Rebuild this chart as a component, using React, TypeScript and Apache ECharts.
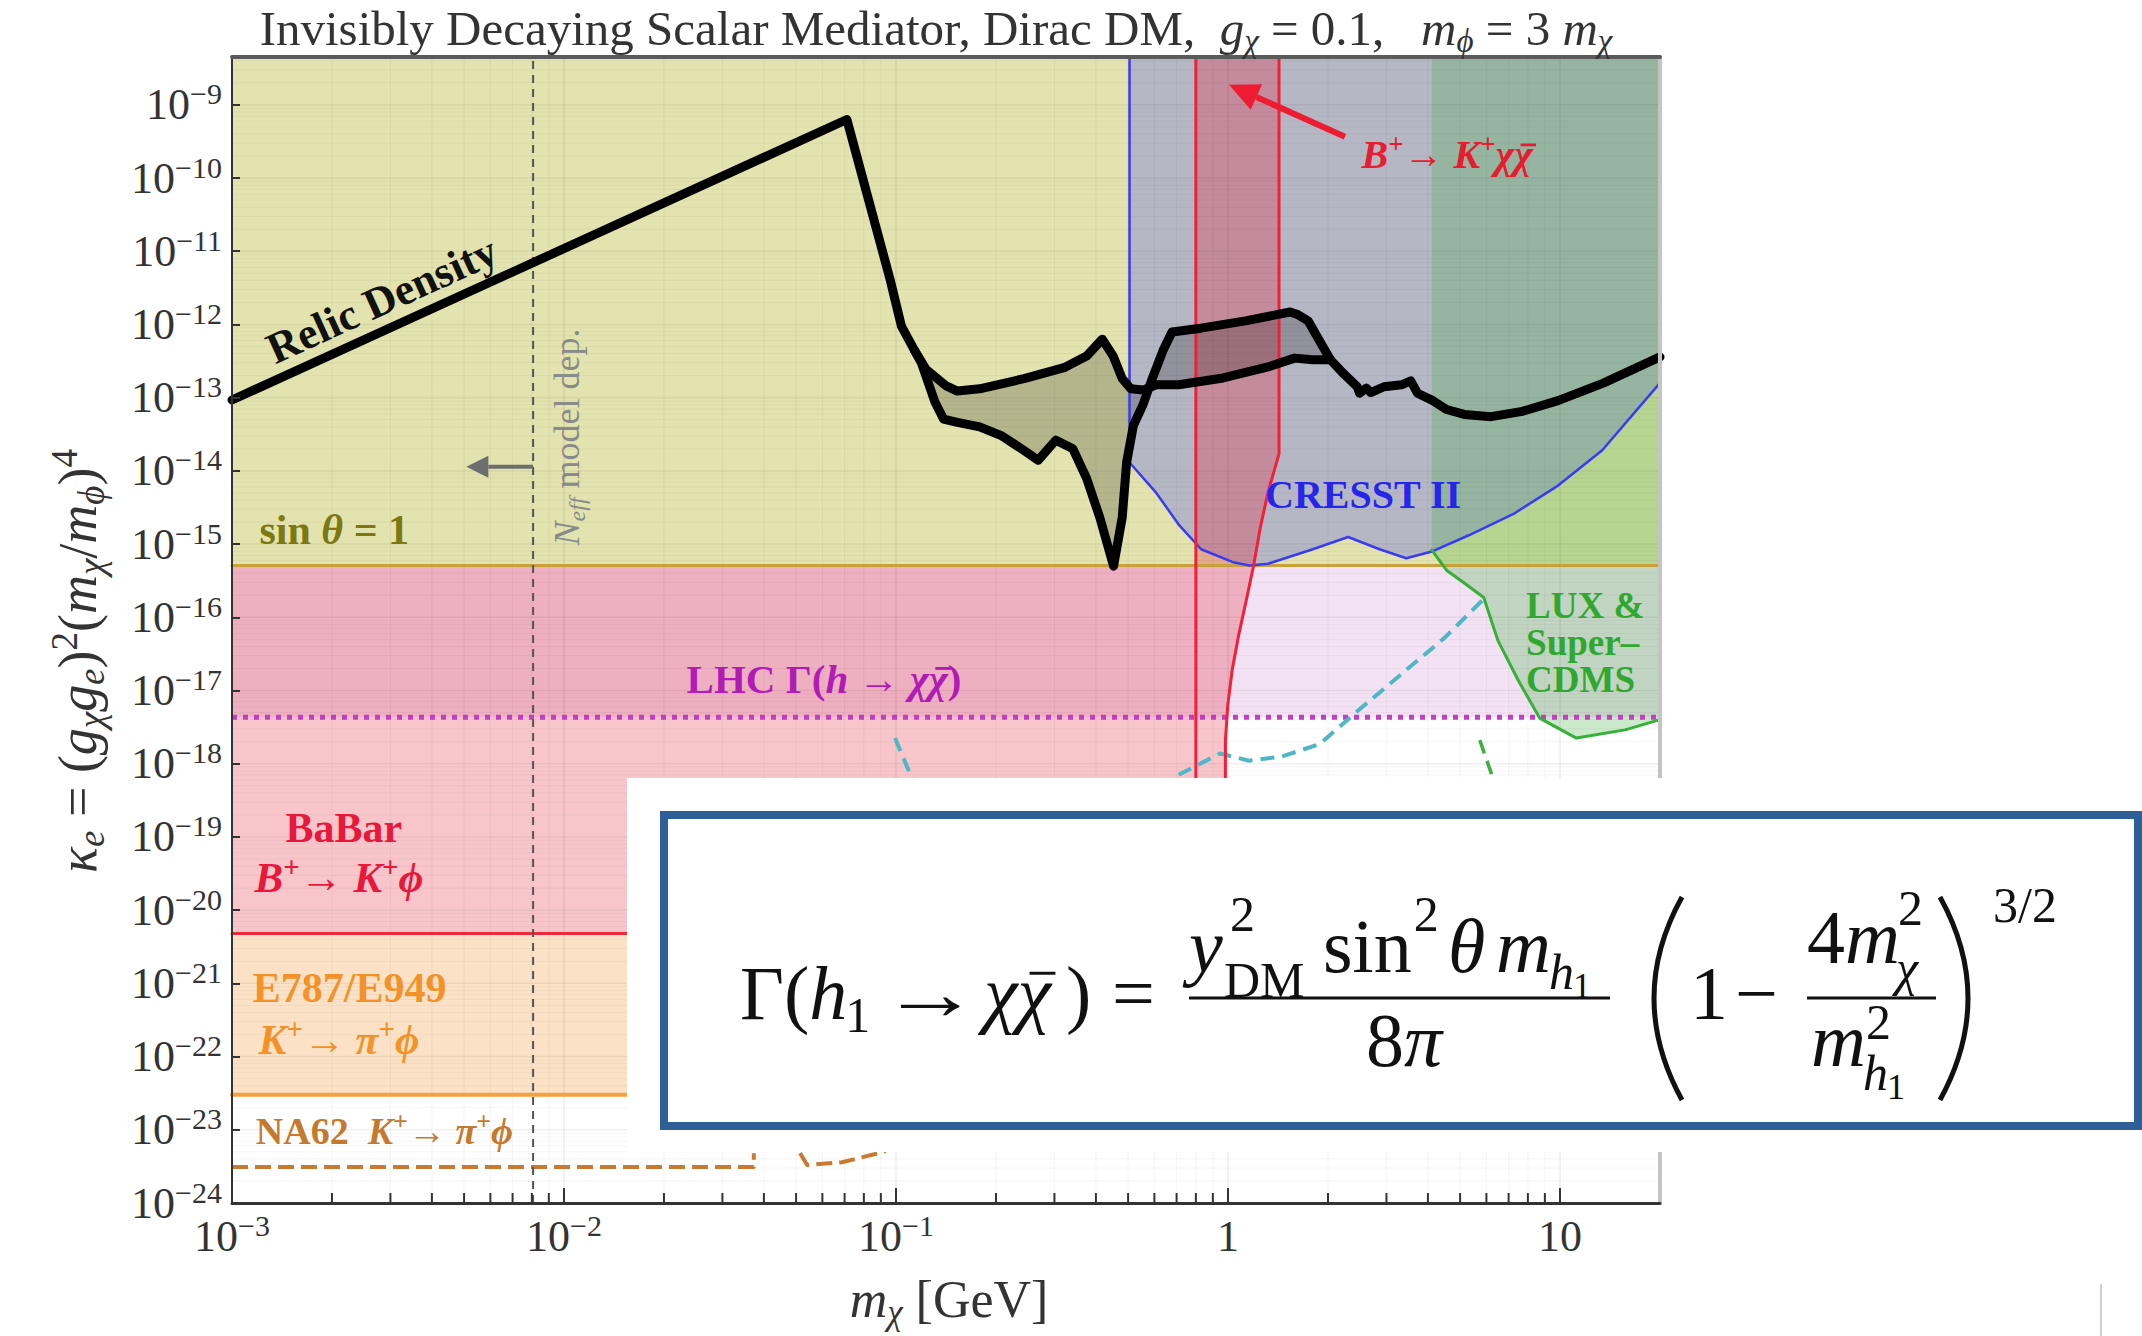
import React, { useEffect, useRef } from "react";
import * as echarts from "echarts";

const SERIF = "'Liberation Serif', 'DejaVu Serif', serif";

// ---------- axis extents (m_chi in GeV, kappa_e) ----------
const X_MIN = 1e-3;
const X_MAX = 20;
const Y_MIN = 1e-24;
const Y_MAX = 4.5e-9;

// ---------- horizontal limits ----------
const SIN_THETA_LIMIT = 5.1e-16;
const LHC_LIMIT = 4.3e-18;
const BABAR_LIMIT = 4.8e-21;
const E787_LIMIT = 3.0e-23;
const NA62_LEVEL = 3.1e-24;

// ---------- vertical limits (GeV) ----------
const NEFF_MASS = 0.00807;
const KAON_END = 0.12;
const BKXX_LEFT = 0.8;
const BKXX_BOTTOM = 1e-21;
const LUX_EDGE = 4.11;

// ---------- relic density curves ----------
const relicMain = [[0.001, 9.3e-14], [0.0711, 6.3e-10], [0.096, 4.1e-12], [0.1038, 9.5e-13], [0.1138, 4.4e-13]];
const relicUpper = [
  [0.1138, 4.4e-13], [0.123, 2.45e-13], [0.1416, 1.45e-13], [0.153, 1.23e-13], [0.1786, 1.32e-13],
  [0.243, 1.82e-13], [0.3206, 2.57e-13], [0.375, 3.7e-13], [0.418, 6.3e-13], [0.451, 3.7e-13],
  [0.48, 1.82e-13], [0.51, 1.32e-13], [0.555, 1.27e-13], [0.608, 1.5e-13], [0.71, 1.5e-13],
  [0.967, 1.86e-13], [1.32, 2.63e-13], [1.587, 3.47e-13], [1.795, 3.3e-13], [2.035, 3.3e-13],
];
const relicLower = [
  [0.1138, 4.4e-13], [0.1192, 3.0e-13], [0.131, 8.7e-14], [0.139, 5.1e-14], [0.153, 4.6e-14],
  [0.1786, 4.0e-14], [0.2084, 3.0e-14], [0.243, 1.9e-14], [0.268, 1.4e-14], [0.303, 2.63e-14],
  [0.341, 2.0e-14], [0.375, 7.9e-15], [0.411, 2.3e-15], [0.452, 5.0e-16], [0.48, 2.3e-15],
  [0.495, 1.32e-14], [0.519, 4.2e-14], [0.555, 8.1e-14], [0.59, 1.78e-13], [0.637, 4.4e-13],
  [0.678, 7.9e-13], [0.828, 8.9e-13], [1.129, 1.12e-12], [1.538, 1.48e-12], [1.612, 1.38e-12],
  [1.742, 1.12e-12], [1.91, 5.4e-13], [2.035, 3.3e-13],
];
const relicTail = [
  [2.035, 3.3e-13], [2.234, 2.1e-13], [2.45, 1.41e-13], [2.49, 1.15e-13], [2.61, 1.35e-13],
  [2.69, 1.17e-13], [2.95, 1.41e-13], [3.33, 1.5e-13], [3.55, 1.7e-13], [3.72, 1.15e-13],
  [4.14, 9.1e-14], [4.55, 6.9e-14], [5.15, 5.9e-14], [6.2, 5.5e-14], [7.7, 6.5e-14],
  [9.86, 9.1e-14], [13.5, 1.58e-13], [20, 3.6e-13],
];

// ---------- direct detection & B decays ----------
const cresstCurve = [
  [0.505, Y_MAX], [0.505, 1.3e-14], [0.608, 5.0e-15], [0.71, 1.85e-15], [0.83, 8.5e-16],
  [1.03, 5.7e-16], [1.16, 5.1e-16], [1.32, 5.4e-16], [1.8, 8.5e-16], [2.3, 1.25e-15],
  [2.86, 8.5e-16], [3.44, 6.4e-16], [4.14, 8.0e-16], [5.31, 1.32e-15], [7.24, 2.58e-15],
  [9.86, 6.3e-15], [13.4, 1.91e-14], [20, 1.59e-13],
];
const luxCurve = [
  [4.11, 8.3e-16], [4.55, 4.4e-16], [5.17, 2.9e-16], [5.89, 1.86e-16], [6.5, 4.8e-17],
  [7.5, 1.35e-17], [8.68, 4.2e-18], [11.2, 2.24e-18], [15.7, 2.9e-18], [20, 4.0e-18],
];
const bkxxCurve = [
  [1.424, Y_MAX], [1.424, 1.71e-14], [1.318, 5.0e-15], [1.25, 1.66e-15], [1.194, 5.1e-16],
  [1.137, 1.78e-16], [1.078, 5.9e-17], [1.029, 1.9e-17], [0.998, 6.3e-18], [0.982, 2.07e-18],
  [0.982, 6.8e-19], [0.98, 1e-21],
];
const cyanProjection = [
  [0.0993, 2.24e-18], [0.1117, 6.3e-19], [0.15, 1.5e-19], [0.25, 4e-20], [0.4, 6e-20],
  [0.55, 2.5e-19], [0.69, 6.6e-19], [0.946, 1.38e-18], [1.156, 1.1e-18], [1.456, 1.26e-18],
  [1.89, 1.86e-18], [2.45, 5.2e-18], [3.36, 1.74e-17], [4.48, 5.2e-17], [5.89, 1.78e-16],
];
const greenProjection = [[5.73, 2.1e-18], [6.24, 6.9e-19], [6.8, 1e-19]];
const na62First = [[0.001, NA62_LEVEL], [0.0373, NA62_LEVEL], [0.0373, 4.8e-24]];
const na62Second = [[0.0514, 4.8e-24], [0.054, 3.3e-24], [0.0687, 3.6e-24], [0.092, 5.0e-24], [0.11, 1.2e-23]];

// ---------- tick exponents ----------
const X_TICK_EXPONENTS = [-3, -2, -1, 0, 1];
const Y_TICK_EXPONENTS = [-24, -23, -22, -21, -20, -19, -18, -17, -16, -15, -14, -13, -12, -11, -10, -9];

const L = (p: number[]) => [Math.log10(p[0]), Math.log10(p[1])];
const XL = [Math.log10(X_MIN), Math.log10(X_MAX)];
const YL = [Math.log10(Y_MIN), Math.log10(Y_MAX)];

let measureCtx: CanvasRenderingContext2D | null = null;
function measure(text: string, size: number, weight: string = "normal", italic: boolean = false) {
  if (!measureCtx && typeof document !== "undefined") measureCtx = document.createElement("canvas").getContext("2d");
  if (!measureCtx) return text.length * size * 0.5;
  measureCtx.font = `${italic ? "italic" : "normal"} ${weight} ${size}px ${SERIF}`;
  return measureCtx.measureText(text).width;
}

function richSet(S: number, color: string, weight: string = "normal") {
  const P = Math.round(S * 0.1);
  const s = Math.round(S * 0.68);
  const mk = (size: number, extra: any) => ({ fontFamily: SERIF, fontSize: size, fontWeight: weight, color, fill: color, ...extra });
  return {
    n: mk(S, { padding: [P, 0, P, 0] }),
    i: mk(S, { padding: [P, 0, P, 0], fontStyle: "italic" }),
    sup: mk(s, { verticalAlign: "top" }),
    supi: mk(s, { verticalAlign: "top", fontStyle: "italic" }),
    sub: mk(s, { verticalAlign: "bottom" }),
    subi: mk(s, { verticalAlign: "bottom", fontStyle: "italic" }),
  };
}

const expLabel = (v: number) => {
  const n = Math.round(v);
  if (Math.abs(v - n) > 1e-6) return "";
  if (n === 0) return "{n|1}";
  if (n === 1) return "{n|10}";
  return `{n|10}{sup|${n < 0 ? "\u2212" : ""}${Math.abs(n)}}`;
};

function polygonSeries(name: string, pts: number[][], color: string, z: number) {
  const coords = pts.map(L);
  return {
    type: "custom", name, z, silent: true, animation: false,
    data: coords,
    renderItem: (params: any, api: any) => {
      if (params.dataIndex !== 0) return null;
      return { type: "polygon", shape: { points: coords.map((c) => api.coord(c)) }, style: { fill: color } };
    },
  };
}

function lineSeries(name: string, pts: number[][], color: string, width: number, type: any, z: number) {
  return {
    type: "line", name, z, silent: true, symbol: "none", animation: false,
    data: pts.map(L),
    lineStyle: { color, width, type, cap: type === "solid" ? "round" : "butt", join: "round" },
  };
}

function gridSeries(vals: number[], vertical: boolean, color: string, width: number, z: number) {
  return {
    type: "custom", silent: true, z, animation: false,
    data: vals.map((v) => (vertical ? [v, YL[0]] : [XL[0], v])),
    renderItem: (params: any, api: any) => {
      const v = vertical ? api.value(0) : api.value(1);
      const a = vertical ? api.coord([v, YL[0]]) : api.coord([XL[0], v]);
      const b = vertical ? api.coord([v, YL[1]]) : api.coord([XL[1], v]);
      return { type: "line", shape: { x1: a[0], y1: a[1], x2: b[0], y2: b[1] }, style: { stroke: color, lineWidth: width } };
    },
  };
}

function tickSeries(vals: number[], len: number) {
  return {
    type: "custom", silent: true, z: 12, animation: false,
    data: vals.map((v) => [v, YL[0]]),
    renderItem: (params: any, api: any) => {
      const a = api.coord([api.value(0), YL[0]]);
      return { type: "line", shape: { x1: a[0], y1: a[1], x2: a[0], y2: a[1] - len }, style: { stroke: "#333", lineWidth: 2 } };
    },
  };
}

function buildOption() {
  const minorX: number[] = [];
  for (let d = -3; d <= 1; d++) for (let k = 2; k <= 9; k++) { const v = d + Math.log10(k); if (v < XL[1]) minorX.push(v); }
  const minorY: number[] = [];
  for (let d = -24; d <= -9; d++) for (let k = 2; k <= 9; k++) { const v = d + Math.log10(k); if (v < YL[1]) minorY.push(v); }

  const yellowPoly = [[X_MIN, SIN_THETA_LIMIT], [X_MAX, SIN_THETA_LIMIT], [X_MAX, Y_MAX], [X_MIN, Y_MAX]];
  const lhcPoly = [[X_MIN, LHC_LIMIT], [X_MAX, LHC_LIMIT], [X_MAX, SIN_THETA_LIMIT], [X_MIN, SIN_THETA_LIMIT]];
  const babarPoly = [
    [X_MIN, SIN_THETA_LIMIT],
    ...bkxxCurve.filter((p) => p[1] <= SIN_THETA_LIMIT && p[1] >= BABAR_LIMIT),
    [0.98, BABAR_LIMIT], [X_MIN, BABAR_LIMIT],
  ];
  const e787Poly = [[X_MIN, E787_LIMIT], [KAON_END, E787_LIMIT], [KAON_END, BABAR_LIMIT], [X_MIN, BABAR_LIMIT]];
  const cresstPoly = [...cresstCurve, [X_MAX, Y_MAX]];
  const bandPoly = [[BKXX_LEFT, SIN_THETA_LIMIT], [BKXX_LEFT, Y_MAX], ...bkxxCurve.filter((p) => p[1] >= SIN_THETA_LIMIT)];
  const luxPoly = [[LUX_EDGE, Y_MAX], ...luxCurve, [X_MAX, Y_MAX]];
  const relicFill = [...relicUpper, ...relicLower.slice().reverse()];

  const axisRich = richSet(44, "#333");

  return {
    animation: false,
    backgroundColor: "#ffffff",
    grid: { left: 232, right: 482, top: 57, bottom: 133, containLabel: false },
    xAxis: [
      {
        type: "value", min: XL[0], max: XL[1], interval: 1, position: "bottom", z: 10,
        axisLine: { show: true, onZero: false, lineStyle: { color: "#333", width: 3 } },
        axisTick: { show: true, inside: true, length: 15, lineStyle: { color: "#333", width: 2 } },
        axisLabel: { show: true, formatter: expLabel, rich: axisRich, margin: 7, showMaxLabel: false, color: "#333" },
        splitLine: { show: false },
      },
      {
        type: "value", min: XL[0], max: XL[1], position: "top", z: 10,
        axisLine: { show: true, onZero: false, lineStyle: { color: "#5a5a5a", width: 4 } },
        axisTick: { show: false }, axisLabel: { show: false }, splitLine: { show: false },
      },
    ],
    yAxis: [
      {
        type: "value", min: YL[0], max: YL[1], interval: 1, position: "left", z: 10,
        axisLine: { show: true, onZero: false, lineStyle: { color: "#333", width: 2 } },
        axisTick: { show: true, inside: true, length: 8, lineStyle: { color: "#333", width: 2 } },
        axisLabel: { show: true, formatter: expLabel, rich: axisRich, margin: 10, showMaxLabel: false, color: "#333" },
        splitLine: { show: false },
      },
      {
        type: "value", min: YL[0], max: YL[1], position: "right", z: 10,
        axisLine: { show: true, onZero: false, lineStyle: { color: "#c4c4c4", width: 4 } },
        axisTick: { show: false }, axisLabel: { show: false }, splitLine: { show: false },
      },
    ],
    series: [
      polygonSeries("sin theta = 1", yellowPoly, "#e2e3ae", 1),
      polygonSeries("LHC", lhcPoly, "#f3e2f3", 1),
      polygonSeries("BaBar", babarPoly, "rgba(225,10,25,0.23)", 1),
      polygonSeries("E787/E949", e787Poly, "#fbe2c6", 1),
      polygonSeries("CRESST II", cresstPoly, "#b6b7c4", 1),
      polygonSeries("B to K chi chi", bandPoly, "rgba(230,30,60,0.29)", 1),
      polygonSeries("LUX & SuperCDMS", luxPoly, "rgba(70,175,70,0.28)", 1),
      gridSeries(minorX, true, "rgba(0,0,0,0.045)", 1, 2),
      gridSeries(minorY, false, "rgba(0,0,0,0.04)", 1, 2),
      gridSeries(X_TICK_EXPONENTS, true, "rgba(0,0,0,0.07)", 1.5, 2),
      gridSeries(Y_TICK_EXPONENTS, false, "rgba(0,0,0,0.06)", 1.5, 2),
      tickSeries(minorX, 10),
      polygonSeries("relic band", relicFill, "rgba(0,0,0,0.2)", 3),
      lineSeries("sin line", [[X_MIN, SIN_THETA_LIMIT], [X_MAX, SIN_THETA_LIMIT]], "#c9a13a", 3, "solid", 4),
      lineSeries("LHC line", [[X_MIN, LHC_LIMIT], [X_MAX, LHC_LIMIT]], "#c43ec4", 5, [5, 6], 4),
      lineSeries("BaBar line", [[X_MIN, BABAR_LIMIT], [0.98, BABAR_LIMIT]], "#ee2a3a", 3, "solid", 4),
      lineSeries("E787 line", [[X_MIN, E787_LIMIT], [KAON_END, E787_LIMIT]], "#f7a040", 4, "solid", 4),
      lineSeries("NA62 a", na62First, "#c87a30", 4, [16, 7], 4),
      lineSeries("NA62 b", na62Second, "#c87a30", 4, [16, 7], 4),
      lineSeries("cyan", cyanProjection, "#4fb6c6", 4, [14, 8], 4),
      lineSeries("green proj", greenProjection, "#3cb03c", 3.5, [14, 8], 4),
      lineSeries("CRESST line", cresstCurve, "#3a3af0", 2.5, "solid", 4),
      lineSeries("LUX line", luxCurve, "#36b036", 3, "solid", 4),
      lineSeries("BKxx curve", bkxxCurve, "#f0203a", 3, "solid", 4),
      lineSeries("BKxx left", [[BKXX_LEFT, Y_MAX], [BKXX_LEFT, BKXX_BOTTOM]], "#f0203a", 3, "solid", 4),
      lineSeries("Neff", [[NEFF_MASS, Y_MIN], [NEFF_MASS, Y_MAX]], "#555", 2, [8, 6], 4),
      lineSeries("relic main", relicMain, "#000", 9, "solid", 5),
      lineSeries("relic upper", relicUpper, "#000", 9, "solid", 5),
      lineSeries("relic lower", relicLower, "#000", 9, "solid", 5),
      lineSeries("relic tail", relicTail, "#000", 9, "solid", 5),
    ],
  };
}

// label anchors in data space
const LABELS = {
  relic: [0.00283, 2.17e-12],
  neff: [0.0102, 2.91e-14],
  neffArrowFrom: [NEFF_MASS, 1.14e-14],
  neffArrowTo: [0.00508, 1.14e-14],
  sin: [0.00121, 1.56e-15],
  lhc: [0.0607, 1.45e-17],
  babar1: [0.00217, 1.33e-19],
  babar2: [0.0021, 2.75e-20],
  e787a: [0.00226, 8.7e-22],
  e787b: [0.0021, 1.69e-22],
  na62: [0.00118, 9.6e-24],
  cresst: [2.55, 4.7e-15],
  lux: [7.9, 4.47e-17],
  bkxx: [4.57, 2.07e-10],
  bkxxArrowFrom: [2.25, 3.66e-10],
  bkxxArrowTo: [1.007, 1.88e-9],
};

function txt(x: number, y: number, text: string, rich: any, opts: any = {}) {
  return {
    type: "text", x, y, rotation: opts.rotation || 0, z: opts.z ?? 50, silent: true,
    style: {
      text, rich,
      align: opts.align || "center", textAlign: opts.align || "center",
      verticalAlign: "middle", textVerticalAlign: "middle",
    },
  };
}

function plain(x: number, y: number, text: string, size: number, italic = false, opts: any = {}) {
  const align = opts.align || "left";
  return {
    type: "text", x, y, z: opts.z ?? 120, silent: true, scaleX: opts.scaleX ?? 1,
    style: {
      text, fill: opts.color || "#111", fontFamily: SERIF, fontSize: size, fontStyle: italic ? "italic" : "normal",
      fontWeight: opts.weight || "normal", lineHeight: opts.lineHeight,
      align, textAlign: align, verticalAlign: "middle", textVerticalAlign: "middle",
    },
  };
}

function barredLabel(center: number[], tokens: string[][], S: number, color: string, weight: string, barIndex: number) {
  const s = Math.round(S * 0.68);
  const widths = tokens.map(([k, t]) => measure(t, k.startsWith("su") ? s : S, weight, k === "i" || k === "supi" || k === "subi"));
  const total = widths.reduce((a, b) => a + b, 0);
  const x0 = center[0] - total / 2;
  let xb = x0;
  for (let i = 0; i < barIndex; i++) xb += widths[i];
  const text = tokens.map(([k, t]) => `{${k}|${t}}`).join("");
  const by = center[1] - 0.25 * S;
  return [
    txt(x0, center[1], text, richSet(S, color, weight), { align: "left" }),
    {
      type: "line", z: 50, silent: true,
      shape: { x1: xb + 0.16 * S, y1: by, x2: xb + widths[barIndex] + 0.08 * S, y2: by },
      style: { stroke: color, lineWidth: Math.max(2, 0.07 * S) },
    },
  ];
}

function arrow(a: number[], b: number[], color: string, width: number, head: number, headW: number) {
  const dx = b[0] - a[0];
  const dy = b[1] - a[1];
  const len = Math.hypot(dx, dy);
  const ux = dx / len, uy = dy / len;
  const bx = b[0] - ux * head, by = b[1] - uy * head;
  return [
    { type: "line", z: 50, silent: true, shape: { x1: a[0], y1: a[1], x2: bx, y2: by }, style: { stroke: color, lineWidth: width } },
    {
      type: "polygon", z: 50, silent: true,
      shape: { points: [[b[0], b[1]], [bx - uy * headW, by + ux * headW], [bx + uy * headW, by - ux * headW]] },
      style: { fill: color },
    },
  ];
}

function formula() {
  const g: any[] = [];
  const F = 76;
  const f = 50;
  const ff = 36;
  const c = 993;
  const hl = (x1: number, x2: number, y: number, w = 3) => ({
    type: "line", z: 120, silent: true, shape: { x1, y1: y, x2, y2: y }, style: { stroke: "#111", lineWidth: w },
  });
  const iw = (t: string, size: number) => measure(t, size, "normal", true);
  // left side
  g.push(plain(740, c, "\u0393(", F));
  const hx = 740 + measure("\u0393(", F);
  g.push(plain(hx, c, "h", F, true));
  g.push(plain(hx + iw("h", F) - 2, c + 22, "1", f));
  g.push(plain(930, c, "\u2192", F, false, { align: "center", scaleX: 1.3 }));
  g.push(plain(984, c, "\u03c7\u03c7", F, true));
  const chi = iw("\u03c7", F);
  g.push(hl(984 + chi + 0.16 * F, 984 + 2 * chi + 0.06 * F, c - 0.26 * F));
  g.push(plain(1066, c, ")", F));
  g.push(plain(1112, c, "=", F));
  // big fraction
  g.push(hl(1189, 1610, 998));
  g.push(plain(1189, 946, "y", F, true));
  g.push(plain(1230, 914, "2", f));
  g.push(plain(1224, 980, "DM", f));
  g.push(plain(1323, 946, "sin", F));
  g.push(plain(1323 + measure("sin", F) + 2, 914, "2", f));
  g.push(plain(1448, 946, "\u03b8", F, true));
  const mx = 1496;
  const mw = iw("m", F);
  g.push(plain(mx, 946, "m", F, true));
  g.push(plain(mx + mw - 2, 972, "h", f, true));
  g.push(plain(mx + mw - 2 + iw("h", f) - 1, 986, "1", ff));
  g.push(plain(1366, 1040, "8", F));
  g.push(plain(1366 + measure("8", F), 1040, "\u03c0", F, true));
  // parenthesised factor
  g.push({ type: "bezierCurve", z: 120, silent: true, shape: { x1: 1682, y1: 897, cpx1: 1626, cpy1: 998, x2: 1682, y2: 1100 }, style: { stroke: "#111", lineWidth: 5, fill: "none" } });
  g.push(plain(1690, c, "1", F));
  g.push(plain(1735, c, "\u2212", F));
  g.push(hl(1807, 1936, 998));
  g.push(plain(1807, 937, "4", F));
  const m4x = 1807 + measure("4", F);
  g.push(plain(m4x, 937, "m", F, true));
  const m4e = m4x + mw;
  g.push(plain(m4e - 2, 908, "2", f));
  g.push(plain(m4e - 4, 968, "\u03c7", f, true));
  g.push(plain(1811, 1040, "m", F, true));
  g.push(plain(1811 + mw, 1022, "2", f));
  g.push(plain(1811 + mw - 3, 1073, "h", f, true));
  g.push(plain(1811 + mw - 3 + iw("h", f) - 1, 1087, "1", ff));
  g.push({ type: "bezierCurve", z: 120, silent: true, shape: { x1: 1940, y1: 897, cpx1: 1996, cpy1: 998, x2: 1940, y2: 1100 }, style: { stroke: "#111", lineWidth: 5, fill: "none" } });
  g.push(plain(1993, 905, "3/2", f));
  return g;
}

function buildGraphic(chart: any) {
  const P = (p: number[]) => chart.convertToPixel({ xAxisIndex: 0, yAxisIndex: 0 }, L(p)) as number[];
  const g: any[] = [];

  // title
  g.push(txt(936, 28,
    "{n|Invisibly Decaying Scalar Mediator, Dirac DM,  }{i|g}{subi|\u03c7}{n| = 0.1,   }{i|m}{subi|\u03d5}{n| = 3 }{i|m}{subi|\u03c7}",
    richSet(49, "#333")));
  // axis titles
  g.push(txt(78, 661,
    "{i|\u03ba}{subi|e}{n| = (}{i|g}{subi|\u03c7}{i|g}{subi|e}{n|)}{sup|2}{n|(}{i|m}{subi|\u03c7}{n|/}{i|m}{subi|\u03d5}{n|)}{sup|4}",
    richSet(54, "#333"), { rotation: Math.PI / 2 }));
  g.push(txt(949, 1299, "{i|m}{subi|\u03c7}{n| [GeV]}", richSet(52, "#333")));

  // relic density label
  const r0 = P(relicMain[0]);
  const r1 = P(relicMain[1]);
  const ang = Math.atan2(r0[1] - r1[1], r1[0] - r0[0]);
  const rl = P(LABELS.relic);
  g.push(txt(rl[0], rl[1], "{n|Relic Density}", richSet(44, "#111", "bold"), { rotation: ang }));

  // Neff
  const nl = P(LABELS.neff);
  g.push(txt(nl[0], nl[1], "{i|N}{subi|eff}{n| model dep.}", richSet(36, "#8a8a8a"), { rotation: Math.PI / 2 }));
  g.push(...arrow(P(LABELS.neffArrowFrom), P(LABELS.neffArrowTo), "#6e6e6e", 4, 22, 11));

  const sl = P(LABELS.sin);
  g.push(txt(sl[0], sl[1], "{n|sin }{i|\u03b8}{n| = 1}", richSet(42, "#7c7812", "bold"), { align: "left" }));

  g.push(...barredLabel(P(LABELS.lhc), [["n", "LHC \u0393("], ["i", "h"], ["n", " \u2192 "], ["i", "\u03c7"], ["i", "\u03c7"], ["n", ")"]], 41, "#b01cb4", "bold", 4));

  const b1 = P(LABELS.babar1);
  g.push(txt(b1[0], b1[1], "{n|BaBar}", richSet(42, "#e8183c", "bold")));
  const b2 = P(LABELS.babar2);
  g.push(txt(b2[0], b2[1], "{i|B}{sup|+}{n|\u2192 }{i|K}{sup|+}{i|\u03d5}", richSet(43, "#e8183c", "bold")));

  const e1 = P(LABELS.e787a);
  g.push(txt(e1[0], e1[1], "{n|E787/E949}", richSet(42, "#f39228", "bold")));
  const e2 = P(LABELS.e787b);
  g.push(txt(e2[0], e2[1], "{i|K}{sup|+}{n|\u2192 }{i|\u03c0}{sup|+}{i|\u03d5}", richSet(42, "#f39228", "bold")));

  const na = P(LABELS.na62);
  g.push(txt(na[0], na[1], "{n|NA62  }{i|K}{sup|+}{n|\u2192 }{i|\u03c0}{sup|+}{i|\u03d5}", richSet(38, "#c47a2e", "bold"), { align: "left" }));

  const cr = P(LABELS.cresst);
  g.push(txt(cr[0], cr[1], "{n|CRESST II}", richSet(40, "#2626ea", "bold")));

  const lx = P(LABELS.lux);
  g.push(plain(lx[0], lx[1], "LUX &\nSuper\u2013\nCDMS", 37, false, { color: "#2ea82e", weight: "bold", lineHeight: 37, z: 50 }));

  g.push(...barredLabel(P(LABELS.bkxx), [["i", "B"], ["sup", "+"], ["n", "\u2192 "], ["i", "K"], ["sup", "+"], ["i", "\u03c7"], ["i", "\u03c7"]], 40, "#e81c30", "bold", 6));
  g.push(...arrow(P(LABELS.bkxxArrowFrom), P(LABELS.bkxxArrowTo), "#ee1c30", 6, 30, 14));

  // overlaid formula box
  g.push({ type: "rect", z: 100, silent: true, shape: { x: 627, y: 778, width: 1515, height: 374 }, style: { fill: "#ffffff" } });
  g.push({ type: "rect", z: 101, silent: true, shape: { x: 664, y: 815, width: 1474, height: 311 }, style: { fill: "#ffffff", stroke: "#2e5f96", lineWidth: 8 } });
  g.push({ type: "line", z: 101, silent: true, shape: { x1: 2101, y1: 1284, x2: 2101, y2: 1336 }, style: { stroke: "#d0d0d0", lineWidth: 2 } });
  g.push(...formula());

  return g;
}

export default function App() {
  const ref = useRef<HTMLDivElement>(null);
  useEffect(() => {
    const chart = echarts.init(ref.current as HTMLDivElement, null, { renderer: "svg" });
    chart.setOption(buildOption() as any);
    chart.setOption({ graphic: buildGraphic(chart) } as any);
    return () => chart.dispose();
  }, []);
  return <div ref={ref} style={{ position: "absolute", left: 0, top: 0, width: 2142, height: 1336, background: "#fff" }} />;
}
